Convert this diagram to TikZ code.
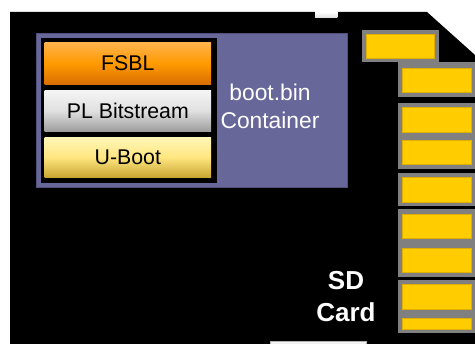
\documentclass[tikz,border=0pt]{standalone}
\usepackage{fontspec}
\setmainfont{Liberation Sans}
\definecolor{purplebg}{HTML}{67679A}
\definecolor{purpleedge}{HTML}{50507A}
\definecolor{padgray}{HTML}{808080}
\definecolor{padyel}{HTML}{FFCC00}
\definecolor{padyeledge}{HTML}{E0AE00}
\definecolor{fsbltop}{HTML}{FFB24C}
\definecolor{fsblmid}{HTML}{FF9A00}
\definecolor{fsblbot}{HTML}{D86E00}
\definecolor{pltop}{HTML}{F5F5F5}
\definecolor{plmid}{HTML}{E0E0E0}
\definecolor{plbot}{HTML}{9E9E9E}
\definecolor{ubtop}{HTML}{FFF6B8}
\definecolor{ubmid}{HTML}{FFE680}
\definecolor{ubbot}{HTML}{C8A530}
\begin{document}
\begin{tikzpicture}[x=1pt,y=-1pt,
  partbox/.style={draw=none, inner sep=0pt, anchor=north west,
    minimum width=166.7pt, font=\fontsize{21.3}{25}\selectfont, text=black},
  whitelbl/.style={inner sep=0pt, anchor=base, text=white, font=\fontsize{22.8}{28}\selectfont},
  sdlbl/.style={inner sep=0pt, anchor=base, text=white, font=\fontsize{26}{31}\selectfont\bfseries},
  padframe/.style={fill=padgray},
  padface/.style={fill=padyel, draw=padyeledge, line width=0.6pt}]
\useasboundingbox (0,0) rectangle (475,344);
\fill[white] (0,0) rectangle (475,344);
% card body
\fill[black] (10,12) -- (427,12) -- (475,55) -- (475,344) -- (10,344) -- cycle;
% notches
\path[top color=white, bottom color=black!12] (315,12) rectangle (337.3,17.5);
\path[fill=black!5, draw=black!30, line width=0.6pt] (270.7,341) rectangle (366.7,346);
% container
\node[fill=purplebg, draw=purpleedge, line width=0.8pt, inner sep=0pt, anchor=north west,
  minimum width=311.5pt, minimum height=153.5pt] (cont) at (35.5,33.5) {};
\node[fill=black, inner sep=0pt, anchor=north west,
  minimum width=176pt, minimum height=145pt] (inner) at (40.7,37.7) {};
\node[partbox, minimum height=41.3pt, top color=fsbltop, bottom color=fsblbot, middle color=fsblmid] (fsbl) at (44.3,42.7) {FSBL};
\node[partbox, minimum height=41pt, top color=pltop, bottom color=plbot, middle color=plmid] (pl) at (44.3,90) {PL Bitstream};
\node[partbox, minimum height=40.3pt, top color=ubtop, bottom color=ubbot, middle color=ubmid] (uboot) at (44.3,137) {U-Boot};
\node[whitelbl] (bootbin) at (270,100.7) {boot.bin};
\node[whitelbl] (contlbl) at (270,129) {Container};
% contacts
\path[padframe] (361.7,30) rectangle (439.3,62.3);
\path[padface] (366.3,34) rectangle (434.5,58);
\path[padframe] (397.7,62) rectangle (476,96.7);
\path[padface] (402.3,68.3) rectangle (471,92.3);
\path[padframe] (397.7,103.3) rectangle (476,169);
\path[padface] (402.3,107.3) rectangle (471,132.3);
\path[padface] (402.3,140) rectangle (471,164.3);
\path[padframe] (397.7,172.7) rectangle (476,206);
\path[padface] (402.3,177.3) rectangle (471,202);
\path[padframe] (397.7,209.3) rectangle (476,276.7);
\path[padface] (402.3,214) rectangle (471,238.3);
\path[padface] (402.3,248.3) rectangle (471,272.7);
\path[padframe] (397.7,280) rectangle (476,332.7);
\path[padface] (402.3,284.3) rectangle (471,309);
\path[padface] (402.3,318.3) rectangle (471,329);
% SD Card label
\node[sdlbl] (sd) at (346,290) {SD};
\node[sdlbl] (card) at (346,321.7) {Card};
\end{tikzpicture}
\end{document}
